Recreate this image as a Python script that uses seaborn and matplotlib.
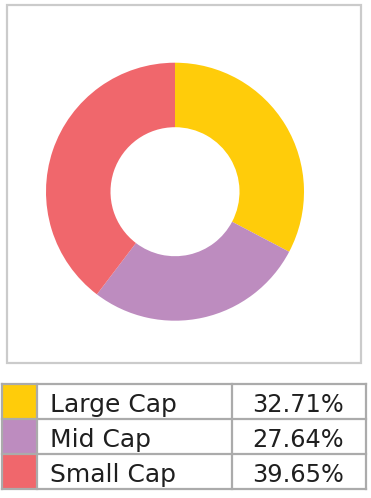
import matplotlib
matplotlib.use("Agg")
import matplotlib.pyplot as plt
import seaborn as sns
from matplotlib.patches import Rectangle

sns.set_theme(style="white")
plt.rcParams['font.family'] = ['DejaVu Sans']

categories = ["Large Cap", "Mid Cap", "Small Cap"]
values = [32.71, 27.64, 39.65]
pct_labels = ["32.71%", "27.64%", "39.65%"]
colors = ["#FFCC0A", "#BD8CBF", "#F0676C"]

W, H = 371, 498
fig = plt.figure(figsize=(W / 100, H / 100), dpi=100)

# overlay axes in pixel coordinates
ov = fig.add_axes([0, 0, 1, 1])
ov.set_xlim(0, W)
ov.set_ylim(H, 0)
ov.axis("off")

# chart border box
ov.add_patch(Rectangle((6.5, 5), 354.5, 358, fill=False, edgecolor="#CBCBCB", lw=1.6))

# donut
cx, cy, R = 175, 191.7, 129
ax = fig.add_axes([(cx - R) / W, (H - cy - R) / H, 2 * R / W, 2 * R / H])
ax.pie(values, colors=colors, startangle=90, counterclock=False,
       wedgeprops=dict(width=0.5, edgecolor="none"), radius=1)
ax.set_xlim(-1, 1)
ax.set_ylim(-1, 1)
ax.set_aspect("auto")
ax.axis("off")

# table
top, row_h = 383.5, 35.2
x0, x1, x2, x3 = 1.5, 37, 232, 365.5
border = "#ABABAB"
for i, (cat, pct, col) in enumerate(zip(categories, pct_labels, colors)):
    y = top + i * row_h
    ov.add_patch(Rectangle((x0, y), x1 - x0, row_h, facecolor=col, edgecolor="none"))
    ov.text(50.5, y + 28.3, cat, fontsize=18, color="#1f1f1f", va="baseline", ha="left")
    ov.text(298.5, y + 28.3, pct, fontsize=17.3, color="#1f1f1f", va="baseline", ha="center")

bottom = top + 3 * row_h
lw = 1.6
for i in range(4):
    y = top + i * row_h
    ov.plot([x0, x3], [y, y], color=border, lw=lw, solid_capstyle="projecting")
for x in (x0, x1, x2, x3):
    ov.plot([x, x], [top, bottom], color=border, lw=lw, solid_capstyle="projecting")

fig.savefig("out.png", dpi=100, facecolor="white")
